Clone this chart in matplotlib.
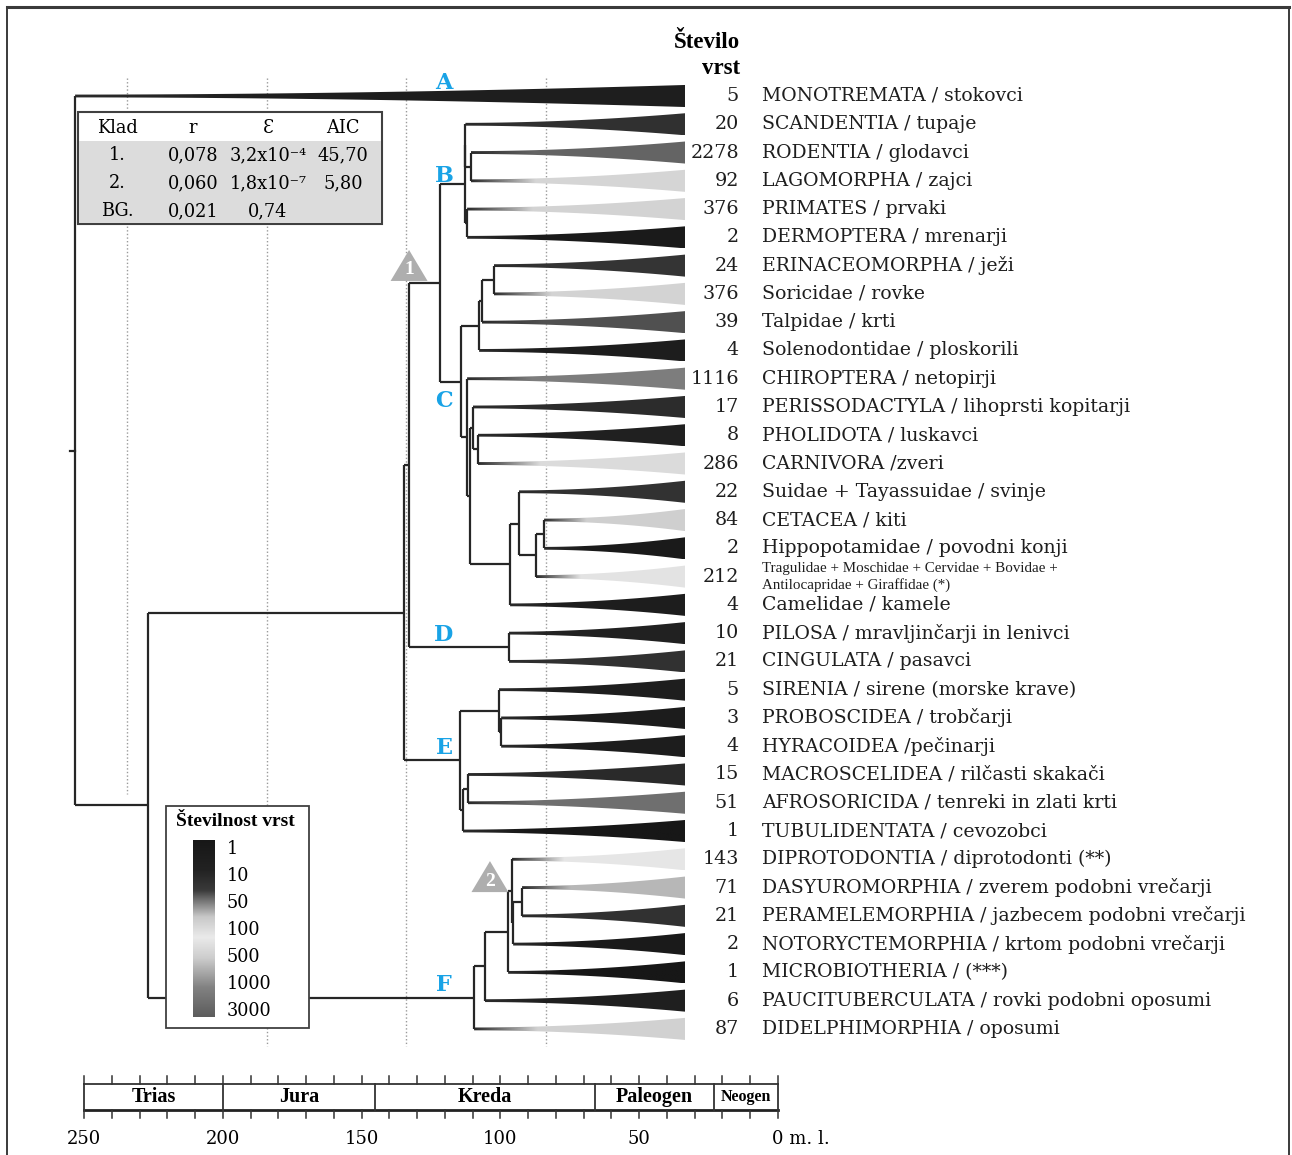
import numpy as np
import matplotlib
matplotlib.use("Agg")
import matplotlib.pyplot as plt
from matplotlib.colors import LinearSegmentedColormap, to_rgb
from matplotlib.patches import Polygon, Rectangle

plt.rcParams['font.family'] = ['DejaVu Serif']

W, H = 1292, 1155

# terminal clades, top to bottom
tip_names = [
    "MONOTREMATA / stokovci", "SCANDENTIA / tupaje", "RODENTIA / glodavci",
    "LAGOMORPHA / zajci", "PRIMATES / prvaki", "DERMOPTERA / mrenarji",
    "ERINACEOMORPHA / ježi", "Soricidae / rovke", "Talpidae / krti",
    "Solenodontidae / ploskorili", "CHIROPTERA / netopirji",
    "PERISSODACTYLA / lihoprsti kopitarji", "PHOLIDOTA / luskavci",
    "CARNIVORA /zveri", "Suidae + Tayassuidae / svinje", "CETACEA / kiti",
    "Hippopotamidae / povodni konji",
    "Tragulidae + Moschidae + Cervidae + Bovidae +\nAntilocapridae + Giraffidae (*)",
    "Camelidae / kamele", "PILOSA / mravljinčarji in lenivci",
    "CINGULATA / pasavci", "SIRENIA / sirene (morske krave)",
    "PROBOSCIDEA / trobčarji", "HYRACOIDEA /pečinarji",
    "MACROSCELIDEA / rilčasti skakači", "AFROSORICIDA / tenreki in zlati krti",
    "TUBULIDENTATA / cevozobci", "DIPROTODONTIA / diprotodonti (**)",
    "DASYUROMORPHIA / zverem podobni vrečarji",
    "PERAMELEMORPHIA / jazbecem podobni vrečarji",
    "NOTORYCTEMORPHIA / krtom podobni vrečarji", "MICROBIOTHERIA / (***)",
    "PAUCITUBERCULATA / rovki podobni oposumi", "DIDELPHIMORPHIA / oposumi",
]
tip_counts = [5, 20, 2278, 92, 376, 2, 24, 376, 39, 4, 1116, 17, 8, 286, 22,
              84, 2, 212, 4, 10, 21, 5, 3, 4, 15, 51, 1, 143, 71, 21, 2, 1,
              6, 87]

# internal nodes (ages in million years), children are tip indices or node names
node_names = ["glires", "sg", "primatomorpha", "B", "n494", "n482",
              "eulipotyphla", "ferae", "n544", "n536", "n519", "cetartio",
              "n471", "n470", "n467", "C", "boreo", "D", "boreoxen", "n501",
              "n499", "n468", "n463", "E", "eutheria", "n522", "n514",
              "n512", "n508", "n485", "F", "theria", "root"]
node_ages = [76.7, 78.7, 78.1, 78.9, 68.5, 72.8, 73.8, 74.2, 50.5, 53.4,
             59.5, 62.7, 76.0, 77.1, 78.1, 80.3, 87.8, 63.1, 98.9, 65.9,
             66.7, 77.8, 79.6, 80.6, 100.7, 58.4, 61.6, 62.0, 63.4, 71.7,
             75.6, 192.5, 218.6]
node_children = [[2, 3], [1, "glires"], [4, 5], ["sg", "primatomorpha"],
                 [6, 7], ["n494", 8], ["n482", 9], [12, 13], [15, 16],
                 ["n544", 17], [14, "n536"], ["n519", 18], [11, "ferae"],
                 ["n471", "cetartio"], [10, "n470"], ["eulipotyphla", "n467"],
                 ["B", "C"], [19, 20], ["boreo", "D"], [22, 23],
                 [21, "n501"], [24, 25], ["n468", 26], ["n499", "n463"],
                 ["boreoxen", "E"], [28, 29], ["n522", 30], [27, "n514"],
                 ["n512", 31], ["n508", 32], ["n485", 33],
                 ["eutheria", "F"], [0, "theria"]]

clade_letters = ["A", "B", "C", "D", "E", "F"]
clade_nodes = [0, "B", "C", "D", "E", "F"]

legend_counts = [1, 10, 50, 100, 500, 1000, 3000]

table_header = ["Klad", "r", "Ɛ", "AIC"]
table_rows = [["1.", "0,078", "3,2x10⁻⁴", "45,70"],
              ["2.", "0,060", "1,8x10⁻⁷", "5,80"],
              ["BG.", "0,021", "0,74", ""]]

period_names = ["Trias", "Jura", "Kreda", "Paleogen", "Neogen"]
period_bounds = [250, 200, 145, 66, 23, 0]
scale_labels = [250, 200, 150, 100, 50]

# species-count colour scale
cmap = LinearSegmentedColormap.from_list("stevilnost", [
    (0.0, "#171717"), (1 / 6, "#222222"), (1.7 / 6, "#3a3a3a"),
    (2 / 6, "#6c6c6c"), (2.6 / 6, "#c8c8c8"), (3.3 / 6, "#eaeaea"),
    (4 / 6, "#cdcdcd"), (5 / 6, "#828282"), (1.0, "#5c5c5c")])


def count_pos(n):
    p = np.interp(np.log10(n), np.log10(legend_counts), np.arange(len(legend_counts)))
    return p / (len(legend_counts) - 1)


# tree layout
PX_TIP, PX_PER_MA = 685.0, 2.79
ROW0, ROW_H = 96.0, 28.27
LINE = "#262626"

def tx(px):
    return (PX_TIP - px) / PX_PER_MA

def px_of(age):
    return PX_TIP - age * PX_PER_MA

def py_of(row):
    return ROW0 + row * ROW_H

node_age = dict(zip(node_names, node_ages))
node_kids = dict(zip(node_names, node_children))

def y_of(c):
    if isinstance(c, int):
        return float(c)
    kids = node_kids[c]
    return 0.5 * (y_of(kids[0]) + y_of(kids[-1]))


fig = plt.figure(figsize=(W / 100, H / 100), dpi=100)
ax = fig.add_axes([0, 0, 1, 1])
ax.axis("off")

# dotted age grid
for age, bottom in [(50, 33.6), (100, 33.6), (150, 33.6), (200, 24.7)]:
    ax.plot([age, age], [-0.65, bottom], color="#9a9a9a", lw=1.0,
            ls=(0, (1, 1.6)), zorder=1)

H0, H1 = 0.05, 0.39
dark = np.array(to_rgb("#2b2b2b"))

def draw_wedge(i, a0):
    ages = np.linspace(a0, 0, 160)
    s = (a0 - ages) / a0
    h = H0 + (H1 - H0) * s ** 1.9
    verts = np.r_[np.c_[ages, i - h], np.c_[ages[::-1], (i + h)[::-1]]]
    poly = Polygon(verts, closed=True, facecolor="none", edgecolor="none")
    ax.add_patch(poly)
    c = np.array(to_rgb(cmap(count_pos(tip_counts[i]))))
    g = np.clip(s / 0.3, 0, 1)[None, :, None]
    img = dark * (1 - g) + c * g
    im = ax.imshow(img, extent=[a0, 0, i + H1, i - H1], aspect="auto",
                   interpolation="bilinear", zorder=2)
    im.set_clip_path(poly)

for name in node_names:
    a = node_age[name]
    kids = node_kids[name]
    ys = [y_of(k) for k in kids]
    ax.plot([a, a], [min(ys), max(ys)], color=LINE, lw=1.6, zorder=3,
            solid_capstyle="butt")
    for k, yk in zip(kids, ys):
        if isinstance(k, str):
            ax.plot([a, node_age[k]], [yk, yk], color=LINE, lw=1.6, zorder=3,
                    solid_capstyle="butt")
        else:
            draw_wedge(k, a)

# root stem tick
ra = node_age["root"]
ax.plot([ra, ra + 2.0], [y_of("root")] * 2, color=LINE, lw=1.6, zorder=3)

# counts and names
for i, (name, n) in enumerate(zip(tip_names, tip_counts)):
    ax.text(tx(739), i, str(n), ha="right", va="center", fontsize=13.8,
            color="#1e1e1e")
    if "\n" in name:
        l1, l2 = name.split("\n")
        ax.text(tx(762), i - 0.27, l1, ha="left", va="center", fontsize=10.8,
                family="Liberation Serif", color="#1e1e1e")
        ax.text(tx(762), i + 0.3, l2, ha="left", va="center", fontsize=10.8,
                family="Liberation Serif", color="#1e1e1e")
    else:
        ax.text(tx(762), i, name, ha="left", va="center", fontsize=13.6,
                color="#1e1e1e")

# clade letters
for letter, node, dy in zip(clade_letters, clade_nodes,
                            [-0.45, -0.3, 0.67, -0.45, -0.45, -0.45]):
    ax.text(tx(444), y_of(node) + dy, letter, ha="center", va="center",
            fontsize=16, fontweight="bold", color="#19a3e6", zorder=5)

ax.set_xlim(tx(0), tx(W))
ax.set_ylim((H - ROW0) / ROW_H, -ROW0 / ROW_H)

# overlay in pixel units: frame, heading, table, legend, markers
ov = fig.add_axes([0, 0, 1, 1])
ov.axis("off")
ov.patch.set_alpha(0)

ov.add_patch(Rectangle((7, 7), W - 10, H + 20, fill=False, edgecolor="#3a3a3a",
                       lw=1.4, clip_on=False))
ov.plot([7, W - 3], [7, 7], color="#3a3a3a", lw=2.2)

ov.text(740, 42, "Število", ha="right", va="center", fontsize=16.5,
        fontweight="bold", family="Liberation Serif")
ov.text(740, 69, "vrst", ha="right", va="center", fontsize=16.5,
        fontweight="bold", family="Liberation Serif")

# node markers 1 and 2
for label, cx, base in [("1", px_of(node_age["boreoxen"]), py_of(y_of("boreo")) - 2),
                        ("2", px_of(node_age["n485"]) + 5, py_of(y_of("n512")) + 1)]:
    ov.add_patch(Polygon([(cx - 18.5, base), (cx + 18.5, base), (cx, base - 31)],
                         closed=True, facecolor="#aeaeae", edgecolor="none",
                         zorder=4))
    ov.text(cx, base - 11, label, ha="center", va="center", fontsize=14,
            fontweight="bold", color="white", family="Liberation Serif", zorder=5)

# parameter table
ov.add_patch(Rectangle((78, 112), 304, 112, facecolor="white",
                       edgecolor="#404040", lw=1.5, zorder=4))
ov.add_patch(Rectangle((79, 141), 302, 82, facecolor="#dcdcdc",
                       edgecolor="none", zorder=4))
col_x = [117, 193, 268, 343]
for x, t in zip(col_x, table_header):
    ov.text(x, 128, t, ha="center", va="center", fontsize=12.8, zorder=5)
for r, row in enumerate(table_rows):
    for x, t in zip(col_x, row):
        ov.text(x, 155 + 28 * r, t, ha="center", va="center", fontsize=12.8,
                zorder=5)

# species-count legend
ov.add_patch(Rectangle((166, 806), 143, 222, facecolor="white",
                       edgecolor="#404040", lw=1.3, zorder=4))
ov.text(235, 822, "Številnost vrst", ha="center", va="center", fontsize=14,
        fontweight="bold", family="Liberation Serif", zorder=5)
grad = np.linspace(0, 1, 256)[:, None]
ov.imshow(grad, extent=[193, 215, 1017, 840], cmap=cmap, aspect="auto",
          interpolation="bilinear", zorder=5)
for k, n in enumerate(legend_counts):
    ov.text(227, 849 + 27 * k, str(n), ha="left", va="center", fontsize=12.7,
            zorder=5)

ov.set_xlim(0, W)
ov.set_ylim(H, 0)

# geological time scale
ts = fig.add_axes([84 / W, 1 - 1150 / H, 694 / W, 80 / H])
ts.axis("off")
ts.set_xlim(250, 0)
ts.set_ylim(1150, 1070)
ts.plot([250, 0], [1084, 1084], color="#333333", lw=1.3, clip_on=False)
ts.plot([250, 0], [1110, 1110], color="#222222", lw=2.0, clip_on=False)
for t in range(0, 251, 10):
    ts.plot([t, t], [1076, 1084], color="#333333", lw=1.1, clip_on=False)
    ts.plot([t, t], [1110, 1118], color="#333333", lw=1.1, clip_on=False)
for b in period_bounds:
    ts.plot([b, b], [1084, 1110], color="#333333", lw=1.3, clip_on=False)
for name, a, b in zip(period_names, period_bounds[:-1], period_bounds[1:]):
    ts.text((a + b) / 2, 1097, name, ha="center", va="center",
            fontsize=11.5 if name == "Neogen" else 14.5, fontweight="bold",
            family="Liberation Serif", clip_on=False)
for v in scale_labels:
    ts.text(v, 1139, str(v), ha="center", va="center", fontsize=13,
            clip_on=False)
ts.text(2.2, 1139, "0 m. l.", ha="left", va="center", fontsize=13,
        clip_on=False)

fig.savefig("out.png", dpi=100)
